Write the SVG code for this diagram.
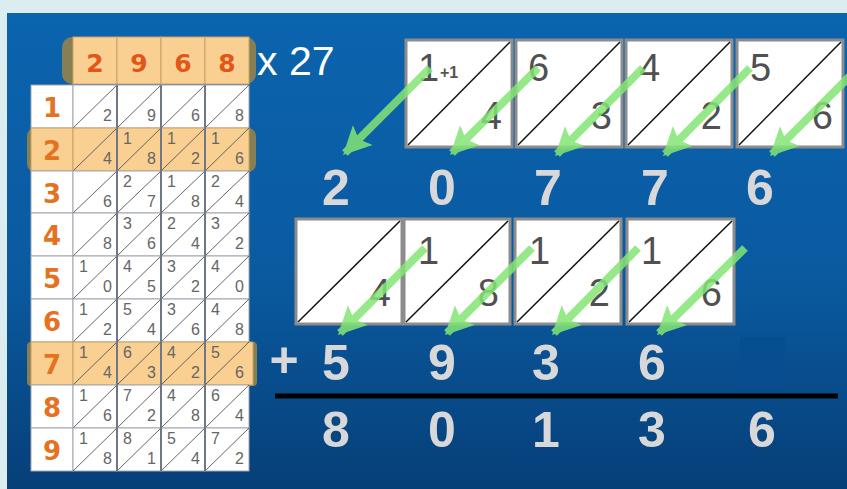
<svg xmlns="http://www.w3.org/2000/svg" width="847" height="489" viewBox="0 0 847 489">
<defs>
<linearGradient id="bg" x1="0" y1="0" x2="0" y2="1">
<stop offset="0" stop-color="#0b64ae"/>
<stop offset="0.55" stop-color="#0a5aa0"/>
<stop offset="1" stop-color="#063f78"/>
</linearGradient>
<marker id="ah" viewBox="0 0 10 10" refX="9" refY="5" markerWidth="28" markerHeight="30" markerUnits="userSpaceOnUse" orient="auto">
<path d="M0,0 L10,5 L0,10 L2,5 z" fill="#84e674"/>
</marker>
<style>
.cell{fill:#fff;stroke:#a0a6ae;stroke-width:1}
.hc{fill:#f9d092;stroke:#c9a262;stroke-width:1}
.dg{stroke:#555;stroke-width:0.9}
.sep{stroke:#707888;stroke-width:2}
.u{font-family:"Liberation Sans",Arial,sans-serif;font-size:16px;fill:#666;text-anchor:end}
.t{font-family:"Liberation Sans",Arial,sans-serif;font-size:16px;fill:#666}
.rl{font-family:"DejaVu Sans",Verdana,sans-serif;font-size:26px;font-weight:bold;fill:#e4721f;text-anchor:middle}
.hd{font-family:"DejaVu Sans",Verdana,sans-serif;font-size:25px;font-weight:bold;fill:#e2561a;text-anchor:middle}
.hl{fill:#867e55}
.box{fill:#fff;stroke:#8c8c8c;stroke-width:3}
.bd{stroke:#111;stroke-width:1.5}
.bt{font-family:"Liberation Sans",Arial,sans-serif;font-size:38px;fill:#505050}
.bu{font-family:"Liberation Sans",Arial,sans-serif;font-size:38px;fill:#505050;text-anchor:end}
.sum{font-family:"Liberation Sans",Arial,sans-serif;font-size:50px;font-weight:bold;fill:#d8d8d8;text-anchor:middle}
.arr{stroke:#84e674;stroke-width:8;fill:none;opacity:0.85;marker-end:url(#ah)}
</style>
</defs>
<rect x="0" y="0" width="847" height="489" fill="#dcedf1"/>
<rect x="7" y="13" width="840" height="476" fill="url(#bg)"/>

<g id="header">
<rect class="hl" x="62" y="37" width="194" height="47" rx="10"/>
<rect class="hc" x="73" y="37" width="44" height="47"/>
<rect class="hc" x="117" y="37" width="44" height="47"/>
<rect class="hc" x="161" y="37" width="44" height="47"/>
<rect class="hc" x="205" y="37" width="44" height="47"/>
<text class="hd" x="95" y="72">2</text>
<text class="hd" x="139" y="72">9</text>
<text class="hd" x="183" y="72">6</text>
<text class="hd" x="227" y="72">8</text>
</g>
<g id="multiplier">
<text x="257" y="75" font-family="Liberation Sans,Arial,sans-serif" font-size="41" fill="#ffffff">x 27</text>
</g>

<g id="grid">
<g id="row1">
<rect class="cell" x="31" y="85" width="42" height="43"/><rect class="cell" x="73" y="85" width="44" height="43"/><rect class="cell" x="117" y="85" width="44" height="43"/><rect class="cell" x="161" y="85" width="44" height="43"/><rect class="cell" x="205" y="85" width="44" height="43"/>
<path class="dg" d="M73,128L117,85M117,128L161,85M161,128L205,85M205,128L249,85"/>
<text class="rl" x="52" y="117">1</text>
<text class="u" x="112" y="121">2</text><text class="u" x="156" y="121">9</text><text class="u" x="200" y="121">6</text><text class="u" x="244" y="121">8</text>
</g>
<g id="row2">
<rect class="hl" x="27" y="128" width="229" height="44" rx="8"/>
<rect class="hc" x="31" y="128" width="42" height="43"/><rect class="hc" x="73" y="128" width="44" height="43"/><rect class="hc" x="117" y="128" width="44" height="43"/><rect class="hc" x="161" y="128" width="44" height="43"/><rect class="hc" x="205" y="128" width="44" height="43"/>
<path class="dg" d="M73,171L117,128M117,171L161,128M161,171L205,128M205,171L249,128"/>
<text class="rl" x="52" y="160">2</text>
<text class="u" x="112" y="164">4</text><text class="u" x="156" y="164">8</text><text class="u" x="200" y="164">2</text><text class="u" x="244" y="164">6</text>
<text class="t" x="123" y="144">1</text><text class="t" x="167" y="144">1</text><text class="t" x="211" y="144">1</text>
</g>
<g id="row3">
<rect class="cell" x="31" y="171" width="42" height="42"/><rect class="cell" x="73" y="171" width="44" height="42"/><rect class="cell" x="117" y="171" width="44" height="42"/><rect class="cell" x="161" y="171" width="44" height="42"/><rect class="cell" x="205" y="171" width="44" height="42"/>
<path class="dg" d="M73,213L117,171M117,213L161,171M161,213L205,171M205,213L249,171"/>
<text class="rl" x="52" y="203">3</text>
<text class="u" x="112" y="207">6</text><text class="u" x="156" y="207">7</text><text class="u" x="200" y="207">8</text><text class="u" x="244" y="207">4</text>
<text class="t" x="123" y="187">2</text><text class="t" x="167" y="187">1</text><text class="t" x="211" y="187">2</text>
</g>
<g id="row4">
<rect class="cell" x="31" y="213" width="42" height="43"/><rect class="cell" x="73" y="213" width="44" height="43"/><rect class="cell" x="117" y="213" width="44" height="43"/><rect class="cell" x="161" y="213" width="44" height="43"/><rect class="cell" x="205" y="213" width="44" height="43"/>
<path class="dg" d="M73,256L117,213M117,256L161,213M161,256L205,213M205,256L249,213"/>
<text class="rl" x="52" y="245">4</text>
<text class="u" x="112" y="249">8</text><text class="u" x="156" y="249">6</text><text class="u" x="200" y="249">4</text><text class="u" x="244" y="249">2</text>
<text class="t" x="123" y="229">3</text><text class="t" x="167" y="229">2</text><text class="t" x="211" y="229">3</text>
</g>
<g id="row5">
<rect class="cell" x="31" y="256" width="42" height="43"/><rect class="cell" x="73" y="256" width="44" height="43"/><rect class="cell" x="117" y="256" width="44" height="43"/><rect class="cell" x="161" y="256" width="44" height="43"/><rect class="cell" x="205" y="256" width="44" height="43"/>
<path class="dg" d="M73,299L117,256M117,299L161,256M161,299L205,256M205,299L249,256"/>
<text class="rl" x="52" y="288">5</text>
<text class="u" x="112" y="292">0</text><text class="u" x="156" y="292">5</text><text class="u" x="200" y="292">2</text><text class="u" x="244" y="292">0</text>
<text class="t" x="79" y="272">1</text><text class="t" x="123" y="272">4</text><text class="t" x="167" y="272">3</text><text class="t" x="211" y="272">4</text>
</g>
<g id="row6">
<rect class="cell" x="31" y="299" width="42" height="43"/><rect class="cell" x="73" y="299" width="44" height="43"/><rect class="cell" x="117" y="299" width="44" height="43"/><rect class="cell" x="161" y="299" width="44" height="43"/><rect class="cell" x="205" y="299" width="44" height="43"/>
<path class="dg" d="M73,342L117,299M117,342L161,299M161,342L205,299M205,342L249,299"/>
<text class="rl" x="52" y="331">6</text>
<text class="u" x="112" y="335">2</text><text class="u" x="156" y="335">4</text><text class="u" x="200" y="335">6</text><text class="u" x="244" y="335">8</text>
<text class="t" x="79" y="315">1</text><text class="t" x="123" y="315">5</text><text class="t" x="167" y="315">3</text><text class="t" x="211" y="315">4</text>
</g>
<g id="row7">
<rect class="hl" x="27" y="342" width="230" height="44" rx="4"/>
<rect class="hc" x="31" y="342" width="42" height="43"/><rect class="hc" x="73" y="342" width="44" height="43"/><rect class="hc" x="117" y="342" width="44" height="43"/><rect class="hc" x="161" y="342" width="44" height="43"/><rect class="hc" x="205" y="342" width="48" height="43"/>
<path class="dg" d="M73,385L117,342M117,385L161,342M161,385L205,342M205,385L249,342"/>
<text class="rl" x="52" y="374">7</text>
<text class="u" x="112" y="378">4</text><text class="u" x="156" y="378">3</text><text class="u" x="200" y="378">2</text><text class="u" x="244" y="378">6</text>
<text class="t" x="79" y="358">1</text><text class="t" x="123" y="358">6</text><text class="t" x="167" y="358">4</text><text class="t" x="211" y="358">5</text>
</g>
<g id="row8">
<rect class="cell" x="31" y="385" width="42" height="43"/><rect class="cell" x="73" y="385" width="44" height="43"/><rect class="cell" x="117" y="385" width="44" height="43"/><rect class="cell" x="161" y="385" width="44" height="43"/><rect class="cell" x="205" y="385" width="44" height="43"/>
<path class="dg" d="M73,428L117,385M117,428L161,385M161,428L205,385M205,428L249,385"/>
<text class="rl" x="52" y="417">8</text>
<text class="u" x="112" y="421">6</text><text class="u" x="156" y="421">2</text><text class="u" x="200" y="421">8</text><text class="u" x="244" y="421">4</text>
<text class="t" x="79" y="401">1</text><text class="t" x="123" y="401">7</text><text class="t" x="167" y="401">4</text><text class="t" x="211" y="401">6</text>
</g>
<g id="row9">
<rect class="cell" x="31" y="428" width="42" height="43"/><rect class="cell" x="73" y="428" width="44" height="43"/><rect class="cell" x="117" y="428" width="44" height="43"/><rect class="cell" x="161" y="428" width="44" height="43"/><rect class="cell" x="205" y="428" width="44" height="43"/>
<path class="dg" d="M73,471L117,428M117,471L161,428M161,471L205,428M205,471L249,428"/>
<text class="rl" x="52" y="460">9</text>
<text class="u" x="112" y="464">8</text><text class="u" x="156" y="464">1</text><text class="u" x="200" y="464">4</text><text class="u" x="244" y="464">2</text>
<text class="t" x="79" y="444">1</text><text class="t" x="123" y="444">8</text><text class="t" x="167" y="444">5</text><text class="t" x="211" y="444">7</text>
</g>
<path class="sep" d="M117,85V471M161,85V471M205,85V471"/>
</g>

<g id="top-boxes">
<g id="tb1"><rect class="box" x="406" y="40" width="106" height="107"/><line class="bd" x1="408" y1="145" x2="510" y2="42"/><text class="bt" x="418" y="81">1</text><text x="440" y="78" font-family="Liberation Sans,Arial,sans-serif" font-size="16" font-weight="bold" fill="#555">+1</text><text class="bu" x="502" y="129">4</text></g>
<g id="tb2"><rect class="box" x="516" y="40" width="106" height="107"/><line class="bd" x1="518" y1="145" x2="620" y2="42"/><text class="bt" x="528" y="81">6</text><text class="bu" x="612" y="129">3</text></g>
<g id="tb3"><rect class="box" x="626" y="40" width="106" height="107"/><line class="bd" x1="628" y1="145" x2="730" y2="42"/><text class="bt" x="639" y="81">4</text><text class="bu" x="722" y="129">2</text></g>
<g id="tb4"><rect class="box" x="737" y="40" width="106" height="107"/><line class="bd" x1="739" y1="145" x2="841" y2="42"/><text class="bt" x="750" y="81">5</text><text class="bu" x="833" y="129">6</text></g>
</g>

<g id="sum1">
<text class="sum" x="336" y="205">2</text>
<text class="sum" x="442" y="205">0</text>
<text class="sum" x="548" y="205">7</text>
<text class="sum" x="655" y="205">7</text>
<text class="sum" x="760" y="205">6</text>
</g>

<g id="bottom-boxes">
<g id="bb1"><rect class="box" x="296" y="219" width="106" height="105"/><line class="bd" x1="298" y1="322" x2="400" y2="221"/><text class="bu" x="391" y="306">4</text></g>
<g id="bb2"><rect class="box" x="404" y="219" width="106" height="105"/><line class="bd" x1="406" y1="322" x2="508" y2="221"/><text class="bt" x="418" y="264">1</text><text class="bu" x="499" y="306">8</text></g>
<g id="bb3"><rect class="box" x="515" y="219" width="106" height="105"/><line class="bd" x1="517" y1="322" x2="619" y2="221"/><text class="bt" x="529" y="264">1</text><text class="bu" x="610" y="306">2</text></g>
<g id="bb4"><rect class="box" x="627" y="219" width="107" height="105"/><line class="bd" x1="629" y1="322" x2="732" y2="221"/><text class="bt" x="641" y="264">1</text><text class="bu" x="722" y="306">6</text></g>
</g>

<g id="sum2">
<rect x="740" y="337" width="45" height="48" fill="#084e90" opacity="0.8"/>
<text class="sum" x="284" y="377" font-size="44">+</text>
<text class="sum" x="336" y="380">5</text>
<text class="sum" x="442" y="380">9</text>
<text class="sum" x="546" y="380">3</text>
<text class="sum" x="652" y="380">6</text>
</g>
<line x1="275" y1="396" x2="838" y2="396" stroke="#000" stroke-width="5"/>
<g id="result">
<text class="sum" x="336" y="447">8</text>
<text class="sum" x="442" y="447">0</text>
<text class="sum" x="546" y="447">1</text>
<text class="sum" x="652" y="447">3</text>
<text class="sum" x="762" y="447">6</text>
</g>

<g id="connectors">
<path class="arr" d="M430,68L345,153"/>
<path class="arr" d="M538,68L452,153"/>
<path class="arr" d="M643,68L557,154"/>
<path class="arr" d="M750,68L665,154"/>
<path class="arr" d="M858,68L772,154"/>
<path class="arr" d="M425,248L340,333"/>
<path class="arr" d="M532,248L447,333"/>
<path class="arr" d="M638,248L554,333"/>
<path class="arr" d="M745,248L659,333"/>
</g>
</svg>
